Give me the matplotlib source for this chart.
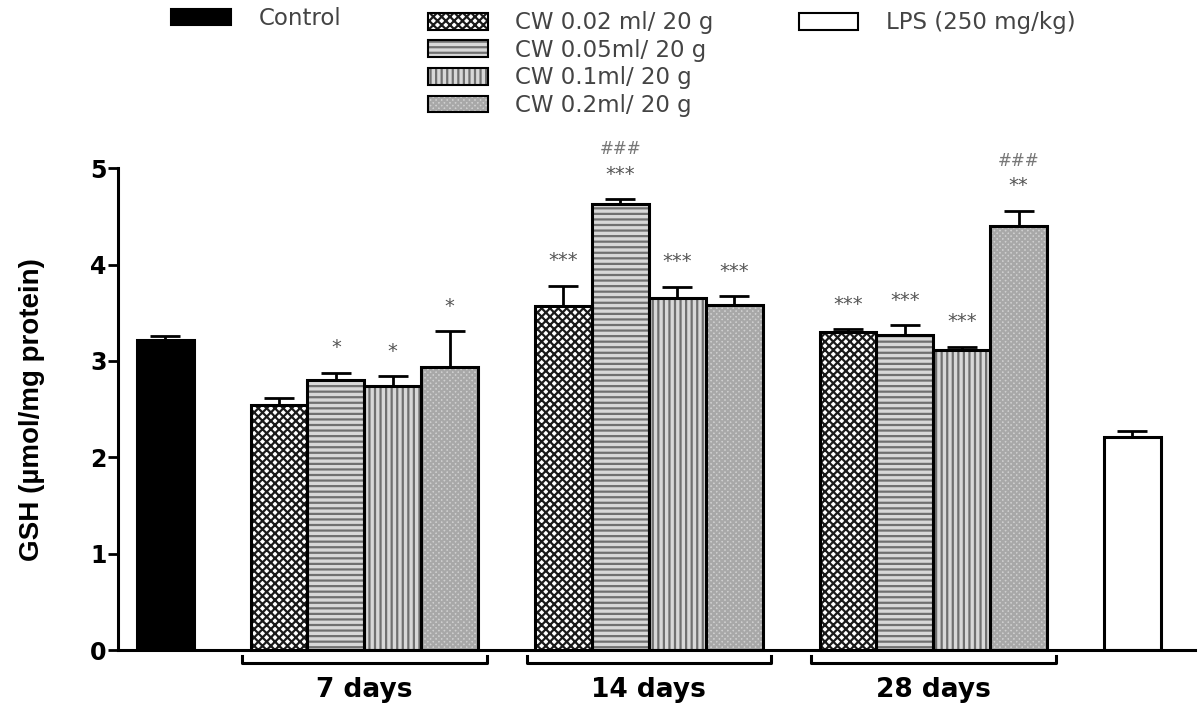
import numpy as np
import matplotlib.pyplot as plt
from matplotlib.patches import Patch

groups = ["7 days", "14 days", "28 days"]
doses = ["CW 0.02 ml/ 20 g", "CW 0.05ml/ 20 g", "CW 0.1ml/ 20 g", "CW 0.2ml/ 20 g"]
control_label = "Control"
lps_label = "LPS (250 mg/kg)"

control_mean, control_err = 3.22, 0.04
lps_mean, lps_err = 2.21, 0.06
cw_means = np.array([[2.54, 2.80, 2.74, 2.94],
                     [3.57, 4.63, 3.65, 3.58],
                     [3.30, 3.27, 3.11, 4.40]])
cw_errs = np.array([[0.08, 0.08, 0.10, 0.37],
                    [0.21, 0.05, 0.12, 0.09],
                    [0.03, 0.10, 0.04, 0.16]])
stars = [["", "*", "*", "*"],
         ["***", "***", "***", "***"],
         ["***", "***", "***", "**"]]
hashes = [["", "", "", ""],
          ["", "###", "", ""],
          ["", "", "", "###"]]

# fill, hatch colour, hatch for each dose
dose_styles = [("white", "#1a1a1a", "xxxx"),
               ("#d8d8d8", "#707070", "---"),
               ("#d8d8d8", "#707070", "|||"),
               ("#d0d0d0", "#a8a8a8", "xxxxxx")]

plt.rcParams["hatch.linewidth"] = 1.6

fig = plt.figure(figsize=(11.99, 7.04), dpi=100)
ax = fig.add_axes([0.0984, 0.0767, 0.8983, 0.6843])

w = 1.0


def draw_bar(x, h, err, face, hcol, hatch):
    ax.bar(x, h, w, color=face, edgecolor=hcol, hatch=hatch, linewidth=0, zorder=2)
    ax.bar(x, h, w, fill=False, edgecolor="black", linewidth=2.2, zorder=3)
    ax.errorbar(x, h, yerr=[[0], [err]], fmt="none", ecolor="black",
                elinewidth=2, capsize=11, capthick=2, zorder=4)


draw_bar(0, control_mean, control_err, "black", "black", None)
tr = ax.get_xaxis_transform()
for g in range(len(groups)):
    start = 2 + g * 5
    for d in range(len(doses)):
        face, hcol, hatch = dose_styles[d]
        x = start + d
        top = cw_means[g, d] + cw_errs[g, d]
        draw_bar(x, cw_means[g, d], cw_errs[g, d], face, hcol, hatch)
        if stars[g][d]:
            ax.text(x, top + 0.26, stars[g][d], ha="center", va="center",
                    fontsize=14, color="#555555")
        if hashes[g][d]:
            ax.text(x, top + 0.52, hashes[g][d], ha="center", va="center",
                    fontsize=12, color="#777777")
    # bracket under the group
    x0, x1 = start - 0.65, start + 3.65
    ax.plot([x0, x0, x1, x1], [-0.012, -0.028, -0.028, -0.012], color="black",
            lw=2.2, transform=tr, clip_on=False)
    ax.text(start + 1.5, -0.082, groups[g], transform=tr, ha="center", va="center",
            fontsize=19, fontweight="bold", family="DejaVu Sans")

draw_bar(17, lps_mean, lps_err, "white", "white", None)

ax.set_xlim(-0.83, 18.1)
ax.set_ylim(0, 5)
ax.set_yticks([0, 1, 2, 3, 4, 5])
ax.set_xticks([])
for s in ["top", "right"]:
    ax.spines[s].set_visible(False)
ax.spines["left"].set_linewidth(2.2)
ax.spines["bottom"].set_linewidth(2.2)
ax.tick_params(axis="y", length=7, width=2, pad=1)
for lab in ax.get_yticklabels():
    lab.set_fontsize(17)
    lab.set_fontweight("bold")
    lab.set_family("DejaVu Sans")
ax.set_ylabel("GSH (µmol/mg protein)", fontsize=20, fontweight="bold",
              family="Liberation Sans", labelpad=33)

# legend in three blocks
leg_kw = dict(frameon=False, handlelength=2.6, handleheight=0.75, handletextpad=1.2,
              labelspacing=0.2, prop={"family": "DejaVu Sans", "size": 16.5},
              labelcolor="#444444", borderaxespad=0, borderpad=0)
h_ctrl = [Patch(facecolor="black", edgecolor="black", linewidth=1.5)]
h_dose = [(Patch(facecolor=f, edgecolor=c, hatch=h, linewidth=0),
           Patch(fill=False, edgecolor="black", linewidth=1.5)) for f, c, h in dose_styles]
h_lps = [Patch(facecolor="white", edgecolor="black", linewidth=1.5)]
fig.legend(h_ctrl, [control_label], loc="upper left", bbox_to_anchor=(0.143, 0.99), **leg_kw)
fig.legend(h_dose, doses, loc="upper left", bbox_to_anchor=(0.357, 0.984), **leg_kw)
fig.legend(h_lps, [lps_label], loc="upper left", bbox_to_anchor=(0.666, 0.984), **leg_kw)

fig.savefig("out.png", dpi=100)
